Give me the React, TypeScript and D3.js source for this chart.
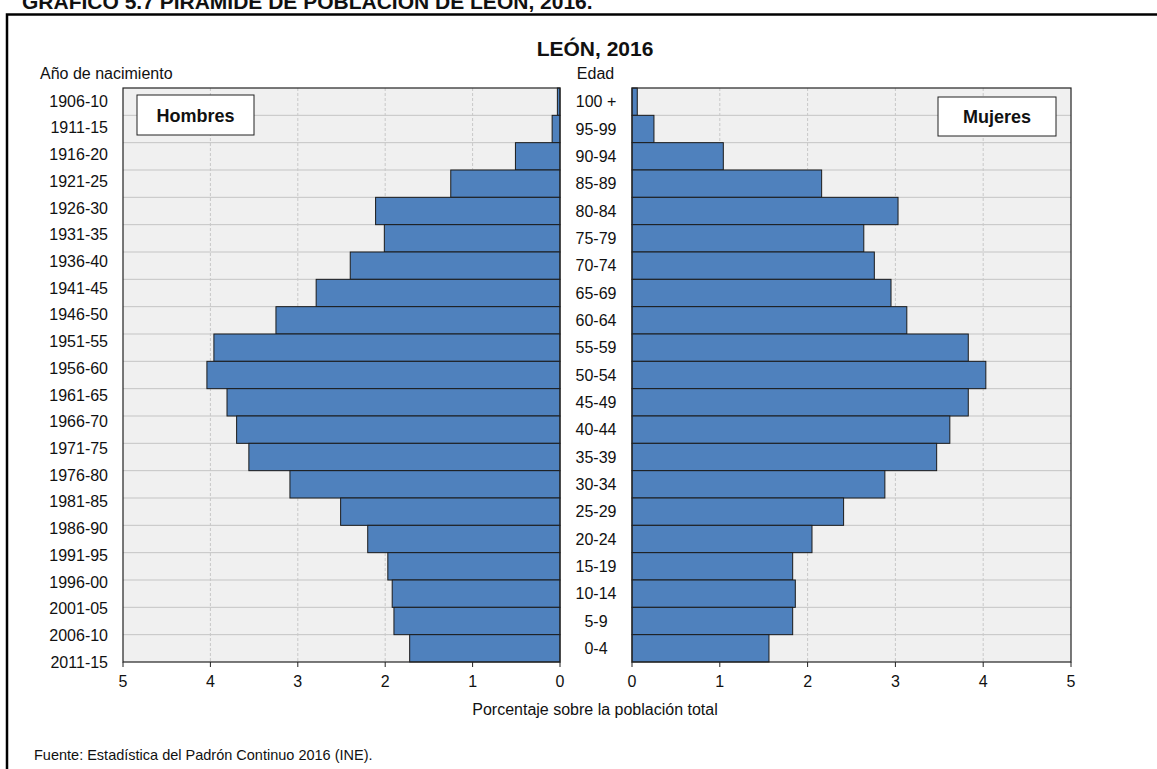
import React from "react";
import * as d3 from "d3";

const ageGroups = ["100 +","95-99","90-94","85-89","80-84","75-79","70-74","65-69","60-64","55-59","50-54","45-49","40-44","35-39","30-34","25-29","20-24","15-19","10-14","5-9","0-4"];
const birthYears = ["1906-10","1911-15","1916-20","1921-25","1926-30","1931-35","1936-40","1941-45","1946-50","1951-55","1956-60","1961-65","1966-70","1971-75","1976-80","1981-85","1986-90","1991-95","1996-00","2001-05","2006-10","2011-15"];
const hombres = [0.03,0.09,0.51,1.25,2.11,2.01,2.40,2.79,3.25,3.96,4.04,3.81,3.70,3.56,3.09,2.51,2.20,1.97,1.92,1.90,1.72];
const mujeres = [0.06,0.25,1.04,2.16,3.03,2.64,2.76,2.95,3.13,3.83,4.03,3.83,3.62,3.47,2.88,2.41,2.05,1.83,1.86,1.83,1.56];
const ticks = [0,1,2,3,4,5];

const FONT = "'Liberation Sans', Arial, sans-serif";

export default function App() {
  const W = 1157, H = 769;
  const top = 88, bottom = 662;
  const y = d3.scaleBand<string>().domain(ageGroups).range([top, bottom]).padding(0);
  const yYears = d3.scalePoint<string>().domain(birthYears).range([101, 662]);
  const xL = d3.scaleLinear().domain([5, 0]).range([123, 560]);
  const xR = d3.scaleLinear().domain([0, 5]).range([632, 1071]);
  const barFill = "#4f81bd";
  const edge = "#1b1b1b";

  const panel = (x: d3.ScaleLinear<number, number>, vals: number[]) => {
    const x0 = x(0), x5 = x(5);
    const px = Math.min(x0, x5), pw = Math.abs(x5 - x0);
    return (
      <g>
        <rect x={px} y={top} width={pw} height={bottom - top} fill="#f0f0f0" />
        {ageGroups.slice(1).map((a) => (
          <line key={a} x1={px} x2={px + pw} y1={y(a)} y2={y(a)} stroke="#c4c4c4" strokeWidth={1} />
        ))}
        {ticks.filter((t) => t !== 0 && t !== 5).map((t) => (
          <line key={t} x1={x(t)} x2={x(t)} y1={top} y2={bottom} stroke="#c8c8c8" strokeDasharray="3,2" strokeWidth={1} />
        ))}
        {vals.map((v, i) => {
          const a = ageGroups[i];
          const xa = x(v);
          return (
            <rect key={a} x={Math.min(xa, x0)} y={y(a)} width={Math.abs(xa - x0)} height={y.bandwidth()}
              fill={barFill} stroke={edge} strokeWidth={1} />
          );
        })}
        <rect x={px} y={top} width={pw} height={bottom - top} fill="none" stroke="#222" strokeWidth={1.2} />
        {ticks.map((t) => (
          <g key={t}>
            <line x1={x(t)} x2={x(t)} y1={bottom} y2={bottom + 5} stroke="#222" strokeWidth={1} />
            <text x={x(t)} y={687} textAnchor="middle" fontSize={16} fontFamily={FONT} fill="#111">{t}</text>
          </g>
        ))}
      </g>
    );
  };

  return (
    <svg width={W} height={H} style={{ position: "absolute", left: 0, top: 0, background: "#fff" }}>
      <text x={22} y={8.5} fontSize={21} fontWeight="bold" fontFamily={FONT} fill="#111">GRÁFICO 5.7 PIRÁMIDE DE POBLACIÓN DE LEÓN, 2016.</text>
      <rect x={7} y={14.5} width={1170} height={780} fill="none" stroke="#000" strokeWidth={2.5} />
      <text x={595} y={55.5} textAnchor="middle" fontSize={21} fontWeight="bold" fontFamily={FONT} fill="#111">LEÓN, 2016</text>
      <text x={40} y={78.5} fontSize={16} fontFamily={FONT} fill="#111">Año de nacimiento</text>
      <text x={595.5} y={78.5} textAnchor="middle" fontSize={16} fontFamily={FONT} fill="#111">Edad</text>
      {panel(xL, hombres)}
      {panel(xR, mujeres)}
      {birthYears.map((b) => (
        <text key={b} x={108} y={(yYears(b) as number) + 5.7} textAnchor="end" fontSize={16} fontFamily={FONT} fill="#111">{b}</text>
      ))}
      {ageGroups.map((a) => (
        <text key={a} x={596} y={(y(a) as number) + y.bandwidth() / 2 + 5.7} textAnchor="middle" fontSize={16} fontFamily={FONT} fill="#111">{a}</text>
      ))}
      <rect x={137} y={95} width={117} height={40} fill="#fff" stroke="#222" strokeWidth={1} />
      <text x={195.5} y={122.3} textAnchor="middle" fontSize={18} fontWeight="bold" fontFamily={FONT} fill="#111">Hombres</text>
      <rect x={938} y={97} width={118} height={39} fill="#fff" stroke="#222" strokeWidth={1} />
      <text x={997} y={123.3} textAnchor="middle" fontSize={18} fontWeight="bold" fontFamily={FONT} fill="#111">Mujeres</text>
      <text x={595} y={714.5} textAnchor="middle" fontSize={16} fontFamily={FONT} fill="#111">Porcentaje sobre la población total</text>
      <text x={34} y={760} fontSize={14.5} fontFamily={FONT} fill="#111">Fuente: Estadística del Padrón Continuo 2016 (INE).</text>
    </svg>
  );
}
